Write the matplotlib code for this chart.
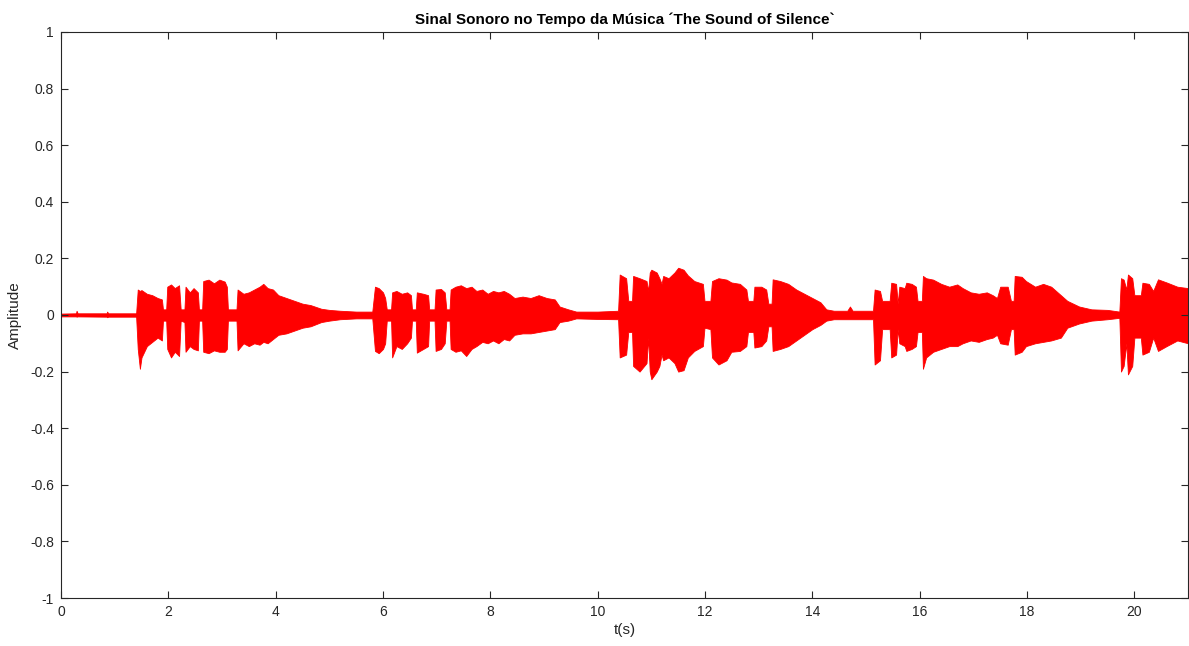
import matplotlib
matplotlib.use("Agg")
import matplotlib.pyplot as plt

plt.rcParams['font.family'] = ['Liberation Sans', 'DejaVu Sans']
plt.rcParams['axes.unicode_minus'] = False

# envelope of the audio signal: time (s), upper and lower amplitude
t = [0.00, 0.28, 0.29, 0.31, 0.85, 0.86, 0.88, 1.40, 1.43, 1.47, 1.50, 1.60, 1.70, 1.80,
     1.88, 1.90, 1.96, 1.98, 2.05, 2.12, 2.20, 2.23, 2.30, 2.32, 2.40, 2.47, 2.55, 2.57,
     2.63, 2.65, 2.75, 2.85, 2.95, 3.05, 3.09, 3.11, 3.27, 3.29, 3.40, 3.50, 3.60, 3.70,
     3.77, 3.85, 3.95, 4.05, 4.20, 4.35, 4.50, 4.65, 4.85, 5.00, 5.20, 5.50, 5.80, 5.85,
     5.92, 6.00, 6.04, 6.07, 6.15, 6.17, 6.25, 6.35, 6.45, 6.52, 6.54, 6.61, 6.63, 6.75,
     6.84, 6.86, 6.96, 6.98, 7.08, 7.15, 7.18, 7.24, 7.26, 7.35, 7.45, 7.55, 7.65, 7.74,
     7.85, 7.95, 8.05, 8.15, 8.25, 8.35, 8.45, 8.60, 8.75, 8.90, 9.05, 9.20, 9.29, 9.45,
     9.60, 10.00, 10.38, 10.41, 10.53, 10.57, 10.64, 10.66, 10.78, 10.91, 10.94, 10.97,
     11.00, 11.10, 11.15, 11.19, 11.22, 11.32, 11.43, 11.50, 11.60, 11.68, 11.80, 11.96,
     11.99, 12.10, 12.13, 12.25, 12.40, 12.49, 12.65, 12.77, 12.80, 12.90, 12.92, 13.05,
     13.14, 13.18, 13.24, 13.26, 13.40, 13.55, 13.70, 13.85, 14.00, 14.15, 14.26, 14.40,
     14.65, 14.70, 14.75, 15.13, 15.16, 15.26, 15.30, 15.44, 15.47, 15.56, 15.59, 15.62,
     15.72, 15.75, 15.85, 15.93, 15.96, 16.04, 16.06, 16.12, 16.25, 16.40, 16.55, 16.70,
     16.80, 16.95, 17.10, 17.25, 17.36, 17.44, 17.50, 17.64, 17.70, 17.75, 17.77, 17.90,
     17.98, 18.15, 18.30, 18.45, 18.63, 18.75, 18.97, 19.20, 19.50, 19.72, 19.75, 19.80,
     19.85, 19.88, 19.96, 20.00, 20.12, 20.15, 20.27, 20.35, 20.44, 20.60, 20.80, 21.00]

upper = [0.005, 0.006, 0.015, 0.006, 0.006, 0.012, 0.006, 0.006, 0.090, 0.085, 0.088, 0.075, 0.070, 0.060,
         0.055, 0.020, 0.020, 0.100, 0.108, 0.095, 0.105, 0.020, 0.020, 0.100, 0.080, 0.095, 0.080, 0.020,
         0.020, 0.120, 0.125, 0.112, 0.125, 0.118, 0.100, 0.020, 0.020, 0.090, 0.075, 0.080, 0.090, 0.100,
         0.110, 0.095, 0.090, 0.070, 0.060, 0.050, 0.040, 0.035, 0.022, 0.018, 0.015, 0.012, 0.012, 0.100,
         0.095, 0.080, 0.060, 0.020, 0.020, 0.080, 0.085, 0.075, 0.080, 0.070, 0.020, 0.020, 0.080, 0.075,
         0.070, 0.020, 0.020, 0.090, 0.092, 0.080, 0.020, 0.020, 0.090, 0.100, 0.105, 0.095, 0.100, 0.085,
         0.090, 0.075, 0.085, 0.080, 0.085, 0.075, 0.060, 0.065, 0.060, 0.070, 0.060, 0.055, 0.030, 0.020,
         0.012, 0.012, 0.015, 0.143, 0.130, 0.050, 0.050, 0.138, 0.130, 0.120, 0.085, 0.150,
         0.160, 0.150, 0.130, 0.110, 0.138, 0.130, 0.150, 0.167, 0.160, 0.140, 0.120, 0.110,
         0.050, 0.050, 0.120, 0.130, 0.125, 0.115, 0.110, 0.090, 0.050, 0.050, 0.100, 0.100,
         0.090, 0.040, 0.040, 0.126, 0.120, 0.110, 0.090, 0.075, 0.060, 0.045, 0.020, 0.015,
         0.015, 0.030, 0.015, 0.015, 0.090, 0.085, 0.050, 0.050, 0.114, 0.110, 0.040, 0.100,
         0.095, 0.114, 0.110, 0.100, 0.050, 0.050, 0.138, 0.130, 0.125, 0.110, 0.100, 0.108,
         0.095, 0.080, 0.075, 0.080, 0.070, 0.060, 0.100, 0.100, 0.050, 0.050, 0.138, 0.135,
         0.120, 0.100, 0.110, 0.100, 0.070, 0.050, 0.030, 0.020, 0.018, 0.012, 0.130, 0.125,
         0.090, 0.143, 0.130, 0.070, 0.070, 0.114, 0.110, 0.085, 0.126, 0.115, 0.100, 0.095]

lower = [-0.005, -0.005, -0.006, -0.005, -0.006, -0.008, -0.006, -0.006, -0.120, -0.190, -0.150, -0.110, -0.095, -0.080,
         -0.090, -0.020, -0.020, -0.120, -0.150, -0.130, -0.145, -0.020, -0.025, -0.130, -0.110, -0.120, -0.125, -0.020,
         -0.020, -0.130, -0.135, -0.125, -0.130, -0.130, -0.120, -0.020, -0.020, -0.125, -0.100, -0.110, -0.100, -0.105,
         -0.095, -0.100, -0.085, -0.070, -0.065, -0.055, -0.045, -0.040, -0.025, -0.020, -0.015, -0.012, -0.012, -0.127,
         -0.135, -0.120, -0.100, -0.020, -0.020, -0.150, -0.110, -0.120, -0.100, -0.080, -0.020, -0.020, -0.133, -0.120,
         -0.110, -0.020, -0.020, -0.127, -0.120, -0.100, -0.020, -0.020, -0.120, -0.130, -0.125, -0.145, -0.120, -0.110,
         -0.095, -0.100, -0.090, -0.100, -0.085, -0.090, -0.070, -0.065, -0.065, -0.060, -0.055, -0.050, -0.025, -0.020,
         -0.012, -0.014, -0.015, -0.150, -0.140, -0.060, -0.060, -0.180, -0.200, -0.170, -0.080, -0.200,
         -0.227, -0.200, -0.180, -0.140, -0.160, -0.150, -0.170, -0.200, -0.195, -0.150, -0.127, -0.110,
         -0.045, -0.050, -0.150, -0.175, -0.160, -0.130, -0.127, -0.110, -0.060, -0.060, -0.115, -0.110,
         -0.090, -0.040, -0.040, -0.127, -0.120, -0.110, -0.090, -0.070, -0.050, -0.035, -0.020, -0.015,
         -0.015, -0.015, -0.015, -0.015, -0.175, -0.160, -0.050, -0.050, -0.150, -0.140, -0.050, -0.100,
         -0.110, -0.127, -0.120, -0.110, -0.060, -0.060, -0.190, -0.150, -0.130, -0.120, -0.110, -0.110,
         -0.100, -0.090, -0.095, -0.085, -0.080, -0.070, -0.100, -0.105, -0.050, -0.050, -0.140, -0.130,
         -0.110, -0.100, -0.095, -0.090, -0.080, -0.045, -0.030, -0.020, -0.015, -0.010, -0.200, -0.180,
         -0.100, -0.210, -0.180, -0.080, -0.080, -0.140, -0.130, -0.080, -0.127, -0.110, -0.090, -0.100]

y_ticks = [-1, -0.8, -0.6, -0.4, -0.2, 0, 0.2, 0.4, 0.6, 0.8, 1]
y_labels = ['-1', '-0.8', '-0.6', '-0.4', '-0.2', '0', '0.2', '0.4', '0.6', '0.8', '1']
x_ticks = [0, 2, 4, 6, 8, 10, 12, 14, 16, 18, 20]

fig = plt.figure(figsize=(11.89, 6.46), dpi=100)
ax = fig.add_axes([0.0513, 0.0743, 0.9479, 0.8762])

ax.fill_between(t, lower, upper, color='red', linewidth=0.6, edgecolor='red')

ax.set_xlim(0, 21)
ax.set_ylim(-1, 1)
ax.set_xticks(x_ticks)
ax.set_yticks(y_ticks)
ax.set_yticklabels(y_labels)

dark = '#262626'
for s in ax.spines.values():
    s.set_color(dark)
    s.set_linewidth(0.8)
ax.tick_params(direction='in', length=5, width=0.8, color=dark, labelcolor=dark,
               labelsize=10, top=True, right=True, pad=5)

ax.set_xlabel('t(s)', fontsize=11, color=dark, labelpad=3)
ax.set_ylabel('Amplitude', fontsize=11, color=dark, labelpad=6)
ax.set_title('Sinal Sonoro no Tempo da Música ´The Sound of Silence`',
             fontsize=11, fontweight='bold', color='black', pad=6)

fig.savefig('out.png', dpi=100)
